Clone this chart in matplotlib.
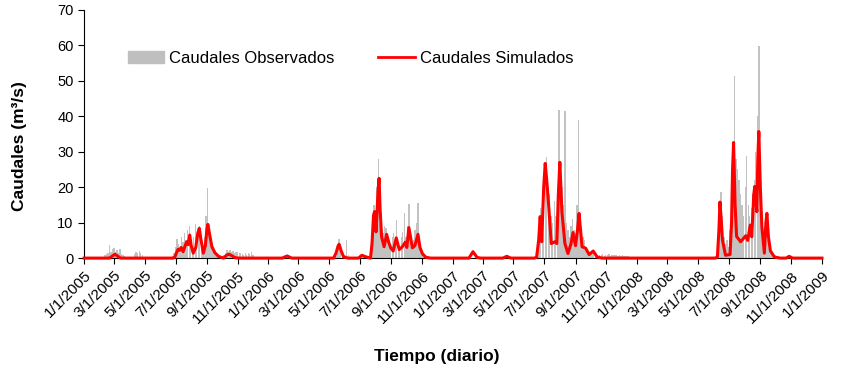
import matplotlib

matplotlib.use("Agg")

import matplotlib.pyplot as plt
import matplotlib.patches as mpatches
import matplotlib.lines as mlines
import pandas as pd

plt.rcParams["font.family"] = ["Liberation Sans", "DejaVu Sans"]

obs_feb05 = [0.8, 1.2, 1.5, 3.6, 1.8, 2.5, 2.8, 1.6, 2.2, 1.4, 2.5, 1.2, 1.0, 0.6]
obs_apr05 = [1.2, 1.8, 1.5, 1.9, 1.4, 1.0]
obs_jun05 = [0.5, 1.5, 3.0, 5.5, 4.0, 3.0, 6.0, 4.5, 7.0, 5.0, 8.0, 9.0, 4.5, 2.5,
             6.0, 9.7, 6.0, 8.5, 9.0, 5.0, 3.0, 6.0, 12.0, 19.8, 9.0, 7.0, 4.0, 3.0,
             1.5, 1.0, 0.6, 0.5, 0.4, 0.6, 1.0, 1.5, 2.2, 1.8, 2.4, 1.6, 2.0, 1.5,
             1.8, 1.7, 1.4, 1.5, 1.2, 1.0, 1.3, 0.8, 1.5, 1.2, 1.6, 0.8]
obs_may06 = [0.5, 1.5, 5.3, 3.0, 1.5, 0.8, 1.0, 5.0, 0.8, 0.3]
obs_jun06 = [0.3, 0.8, 1.0, 0.6, 0.4, 0.3, 0.5, 0.2, 1.0, 8.0, 15.0, 9.0, 20.0, 27.9,
             10.0, 8.0, 7.0, 9.0, 8.5, 6.0, 5.0, 4.0, 6.0, 7.0, 5.0, 10.7, 4.0, 3.0,
             6.0, 7.5, 12.8, 6.0, 9.0, 15.3, 7.0, 4.0, 5.0, 8.0, 10.0, 15.6, 6.0, 2.5,
             1.5, 1.0, 0.8, 0.6, 0.5, 0.4]
obs_jun07 = [0.5, 2.0, 8.0, 14.0, 10.0, 20.0, 24.0, 28.6, 20.0, 18.0, 12.0, 10.0, 16.0,
             12.0, 20.0, 41.8, 25.0, 20.0, 15.0, 41.5, 10.0, 8.0, 6.0, 9.0, 11.0, 8.0,
             7.0, 15.0, 39.0, 12.0, 8.0, 6.0, 5.0, 3.0, 2.0, 1.5, 1.0, 2.0, 1.5, 1.0,
             0.8, 0.6, 1.0, 0.8, 1.2, 0.7, 1.0, 0.8, 1.1, 0.7, 0.9, 1.0, 0.8, 0.9,
             0.6, 0.8, 0.7, 0.9, 0.6, 0.7, 0.5, 0.6]
obs_jun08 = [0.5, 2.0, 8.0, 18.7, 12.0, 6.0, 4.0, 5.0, 3.0, 8.0, 12.0, 30.0, 51.4,
             28.0, 25.0, 22.0, 18.0, 15.0, 12.0, 20.0, 28.8, 15.0, 12.0, 14.0, 18.0,
             22.0, 30.0, 40.0, 59.9, 25.0, 12.0, 6.0, 4.0, 8.0, 5.0, 3.0, 2.0, 1.5,
             1.0, 0.8, 0.6, 0.5]
obs_starts = ["2005-02-11", "2005-04-11", "2005-06-25", "2006-05-15",
              "2006-06-29", "2007-06-15", "2008-06-06"]

# simulated flows
sim_dates = [
    "2005-01-01", "2005-02-20", "2005-03-03", "2005-03-14",
    "2005-06-26", "2005-06-30", "2005-07-03", "2005-07-06", "2005-07-09", "2005-07-12",
    "2005-07-16", "2005-07-20", "2005-07-23", "2005-07-26", "2005-07-29", "2005-08-01",
    "2005-08-05", "2005-08-10", "2005-08-14", "2005-08-17", "2005-08-20", "2005-08-25",
    "2005-08-29", "2005-09-01", "2005-09-03", "2005-09-06", "2005-09-11", "2005-09-17",
    "2005-09-24", "2005-10-04", "2005-10-10", "2005-10-14", "2005-10-19", "2005-10-27",
    "2005-11-05",
    "2006-01-28", "2006-02-07", "2006-02-16",
    "2006-05-10", "2006-05-15", "2006-05-19", "2006-05-21", "2006-05-25", "2006-05-30",
    "2006-06-08", "2006-06-28", "2006-07-05", "2006-07-12", "2006-07-22", "2006-07-25",
    "2006-07-28", "2006-07-30", "2006-08-02", "2006-08-06", "2006-08-08", "2006-08-10",
    "2006-08-13", "2006-08-18", "2006-08-23", "2006-08-27", "2006-08-31", "2006-09-05",
    "2006-09-11", "2006-09-17", "2006-09-23", "2006-09-29", "2006-10-02", "2006-10-06",
    "2006-10-13", "2006-10-18", "2006-10-24", "2006-10-28", "2006-11-02", "2006-11-09",
    "2006-11-18",
    "2007-02-02", "2007-02-10", "2007-02-18", "2007-02-25",
    "2007-04-10", "2007-04-18", "2007-04-26",
    "2007-06-12", "2007-06-16", "2007-06-20", "2007-06-23", "2007-06-26", "2007-06-30",
    "2007-07-03", "2007-07-06", "2007-07-10", "2007-07-15", "2007-07-22", "2007-07-26",
    "2007-07-29", "2007-08-01", "2007-08-05", "2007-08-11", "2007-08-17", "2007-08-23",
    "2007-08-27", "2007-09-01", "2007-09-05", "2007-09-08", "2007-09-14", "2007-09-21",
    "2007-09-28", "2007-10-06", "2007-10-14", "2007-10-24",
    "2008-06-04", "2008-06-08", "2008-06-11", "2008-06-13", "2008-06-15", "2008-06-18",
    "2008-06-24", "2008-07-03", "2008-07-06", "2008-07-08", "2008-07-10", "2008-07-13",
    "2008-07-16", "2008-07-24", "2008-08-03", "2008-08-07", "2008-08-12", "2008-08-15",
    "2008-08-19", "2008-08-21", "2008-08-25", "2008-08-27", "2008-08-29", "2008-09-01",
    "2008-09-04", "2008-09-09", "2008-09-12", "2008-09-14", "2008-09-17", "2008-09-21",
    "2008-09-29", "2008-10-10", "2008-10-22", "2008-10-28", "2008-11-04",
    "2009-01-01",
]
sim_vals = [
    0, 0, 1.1, 0,
    0, 0.4, 1.6, 2.5, 2.2, 3.0,
    1.8, 3.5, 4.6, 3.8, 6.5, 3.5,
    1.4, 3.0, 7.0, 8.4, 5.5, 1.4,
    3.5, 8.0, 9.5, 7.0, 3.2, 1.5,
    0.5, 0, 0.8, 1.1, 0.8, 0.1,
    0,
    0, 0.6, 0,
    0, 1.5, 3.5, 3.9, 2.0, 0.3,
    0, 0, 0.8, 0.4, 0, 4.0,
    12.0, 13.1, 7.4, 19.0, 22.5, 14.0,
    6.0, 3.2, 6.7, 4.5, 2.9, 2.0,
    5.7, 2.4, 3.2, 4.5, 3.0, 8.6,
    2.9, 3.5, 6.7, 3.0, 1.2, 0.2,
    0,
    0, 1.8, 0.2, 0,
    0, 0.5, 0,
    0, 0.3, 5.0, 11.7, 4.6, 20.0,
    26.7, 22.0, 14.5, 4.1, 4.6, 4.1,
    18.0, 27.0, 13.1, 4.1, 1.3, 4.0,
    7.2, 3.5, 8.0, 12.6, 3.2, 2.8,
    1.0, 2.0, 0.3, 0,
    0, 0.4, 8.0, 15.8, 12.0, 5.1,
    0.8, 1.0, 10.0, 25.0, 32.6, 15.0,
    6.1, 4.6, 6.3, 5.0, 9.3, 6.0,
    18.0, 20.2, 13.1, 28.0, 35.7, 20.0,
    8.9, 1.4, 10.0, 12.6, 6.0, 2.0,
    0.3, 0, 0, 0.5, 0,
    0,
]

blocks = [obs_feb05, obs_apr05, obs_jun05, obs_may06, obs_jun06, obs_jun07, obs_jun08]
obs = pd.concat([
    pd.Series(vals, index=pd.date_range(start, periods=len(vals), freq="3D"))
    for start, vals in zip(obs_starts, blocks)
])
sim = pd.Series(sim_vals, index=pd.to_datetime(sim_dates))

fig = plt.figure(figsize=(8.5, 3.79), dpi=100)
ax = fig.add_axes([0.099, 0.319, 0.868, 0.655])

ax.bar(obs.index, obs.values, width=2.7, color="#c2c2c2", linewidth=0)
ax.plot(sim.index, sim.values, color="red", linewidth=2.2, clip_on=False, zorder=3)

ax.set_xlim(pd.Timestamp("2005-01-01"), pd.Timestamp("2009-01-01"))
ax.set_ylim(0, 70)
ax.set_yticks(range(0, 71, 10))
ticks = pd.date_range("2005-01-01", "2009-01-01", freq="2MS")
ax.set_xticks(ticks)
ax.set_xticklabels([f"{d.month}/{d.day}/{d.year}" for d in ticks],
                   rotation=45, ha="right", rotation_mode="anchor", fontsize=11)
ax.tick_params(axis="y", labelsize=10.5, length=4, width=0.8)
ax.tick_params(axis="x", length=4, width=0.8)
for s in ("top", "right"):
    ax.spines[s].set_visible(False)

ax.set_ylabel("Caudales (m³/s)", fontsize=12.5, fontweight="bold")
ax.yaxis.set_label_coords(-0.077, 0.45)
ax.set_xlabel("Tiempo (diario)", fontsize=12.5, fontweight="bold")
ax.xaxis.set_label_coords(0.478, -0.365)

h_obs = mpatches.Patch(color="#bfbfbf", label="Caudales Observados")
h_sim = mlines.Line2D([], [], color="red", linewidth=2, label="Caudales Simulados")
ax.legend(handles=[h_obs, h_sim], ncol=2, frameon=False, fontsize=12,
          loc="center left", bbox_to_anchor=(0.05, 0.805), columnspacing=2.6,
          handlelength=2.2, handletextpad=0.3, borderaxespad=0)

plt.savefig("out.png", dpi=100)
plt.close(fig)
